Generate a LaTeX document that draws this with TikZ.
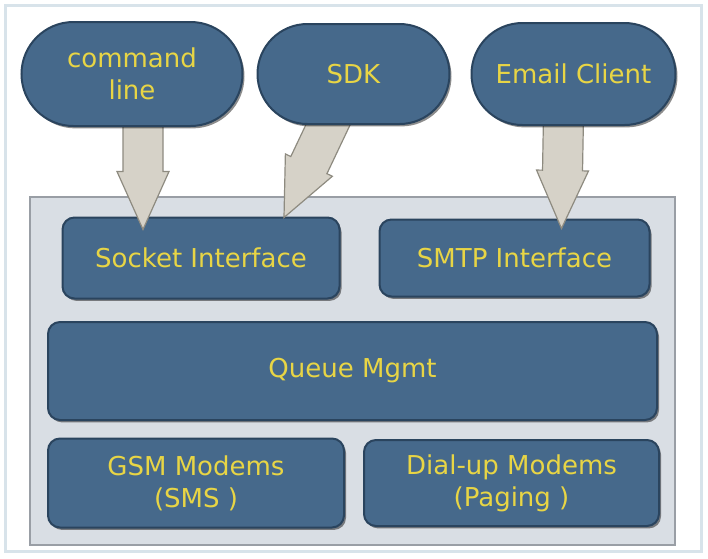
\documentclass[tikz,border=0pt]{standalone}
\usepackage{fontspec}
\setmainfont{DejaVu Sans}
\usetikzlibrary{calc,positioning,shapes,shadows}
\definecolor{boxblue}{HTML}{46698B}
\definecolor{boxedge}{HTML}{2A445E}
\definecolor{boxtext}{HTML}{E8D545}
\definecolor{panelfill}{HTML}{D9DEE4}
\definecolor{paneledge}{HTML}{999EA5}
\definecolor{arrowfill}{HTML}{D6D2C8}
\definecolor{arrowedge}{HTML}{8E8B80}
\definecolor{frameline}{HTML}{D8E3EA}
\pgfdeclarelayer{front}
\pgfsetlayers{main,front}

\begin{document}
\begin{tikzpicture}[x=0.5pt,y=-0.5pt,thin]
\tikzstyle{every node}=[font=\fontsize{13}{16}\selectfont, inner sep=0pt]
\tikzstyle{block}=[shape=rectangle, draw=boxedge, line width=1pt, fill=boxblue, text=boxtext, align=center, rounded corners=6pt, drop shadow={shadow xshift=1pt, shadow yshift=-1.2pt, fill=black, opacity=0.45}]
\tikzstyle{client}=[shape=rounded rectangle, draw=boxedge, line width=1pt, fill=boxblue, text=boxtext, align=center, drop shadow={shadow xshift=1pt, shadow yshift=-1.2pt, fill=black, opacity=0.45}]
\tikzstyle{panel}=[shape=rectangle, draw=paneledge, line width=1pt, fill=panelfill]
\tikzstyle{bigarrow}=[draw=arrowedge, fill=arrowfill, line width=0.6pt, line join=miter,
  to path={($(\tikztotarget)!29pt!(\tikztostart)$) coordinate (ah)
    ($(\tikztostart)!10pt!90:(\tikztotarget)$) -- ($(ah)!10pt!-90:(\tikztostart)$)
    -- ($(ah)!13pt!-90:(\tikztostart)$) -- (\tikztotarget)
    -- ($(ah)!13pt!90:(\tikztostart)$) -- ($(ah)!10pt!90:(\tikztostart)$)
    -- ($(\tikztostart)!10pt!-90:(\tikztotarget)$) -- cycle}]

\useasboundingbox (0,0) rectangle (708,558);
\draw[frameline, line width=1.5pt] (5,5) rectangle (701,551);

% clients on top
\begin{pgfonlayer}{front}
\node[client, minimum width=110.5pt, minimum height=52pt] (cmd) at (132,74) {command\\line};
\node[client, minimum width=96pt, minimum height=50pt] (sdk) [right=6.5pt of cmd] {SDK};
\node[client, minimum width=102pt, minimum height=51pt] (mail) [right=10pt of sdk] {Email Client};
\end{pgfonlayer}

% server box
\node[panel, minimum width=322.5pt, minimum height=174pt] (core) at (352.5,371) {};
\node[block, minimum width=138.5pt, minimum height=40.5pt] (sock) at (201,258) {Socket Interface};
\node[block, minimum width=135pt, minimum height=38.5pt] (smtp) [right=19pt of sock] {SMTP Interface};
\node[block, minimum width=304.5pt, minimum height=49pt] (queue) at (352.5,371) {Queue Mgmt};
\node[block, minimum width=148pt, minimum height=44.5pt] (gsm) at (196,483) {GSM Modems\\(SMS )};
\node[block, minimum width=147.5pt, minimum height=43pt] (dial) [right=9pt of gsm] {Dial-up Modems\\(Paging )};

\coordinate (cmdout) at ([xshift=5.5pt,yshift=5pt]cmd.south);
\coordinate (sdkout) at ([xshift=-9pt,yshift=8pt]sdk.south);
\coordinate (mailout) at ([xshift=-5pt,yshift=5pt]mail.south);
\coordinate (sockin1) at ([xshift=-29pt,yshift=-6.5pt]sock.north);
\coordinate (sockin2) at ([xshift=41.5pt,yshift=-0.5pt]sock.north);
\coordinate (smtpin) at ([xshift=23.5pt,yshift=-5pt]smtp.north);

\path
(cmdout) edge[bigarrow] (sockin1)
(sdkout) edge[bigarrow] (sockin2)
(mailout) edge[bigarrow] (smtpin)
;
\end{tikzpicture}
\end{document}
